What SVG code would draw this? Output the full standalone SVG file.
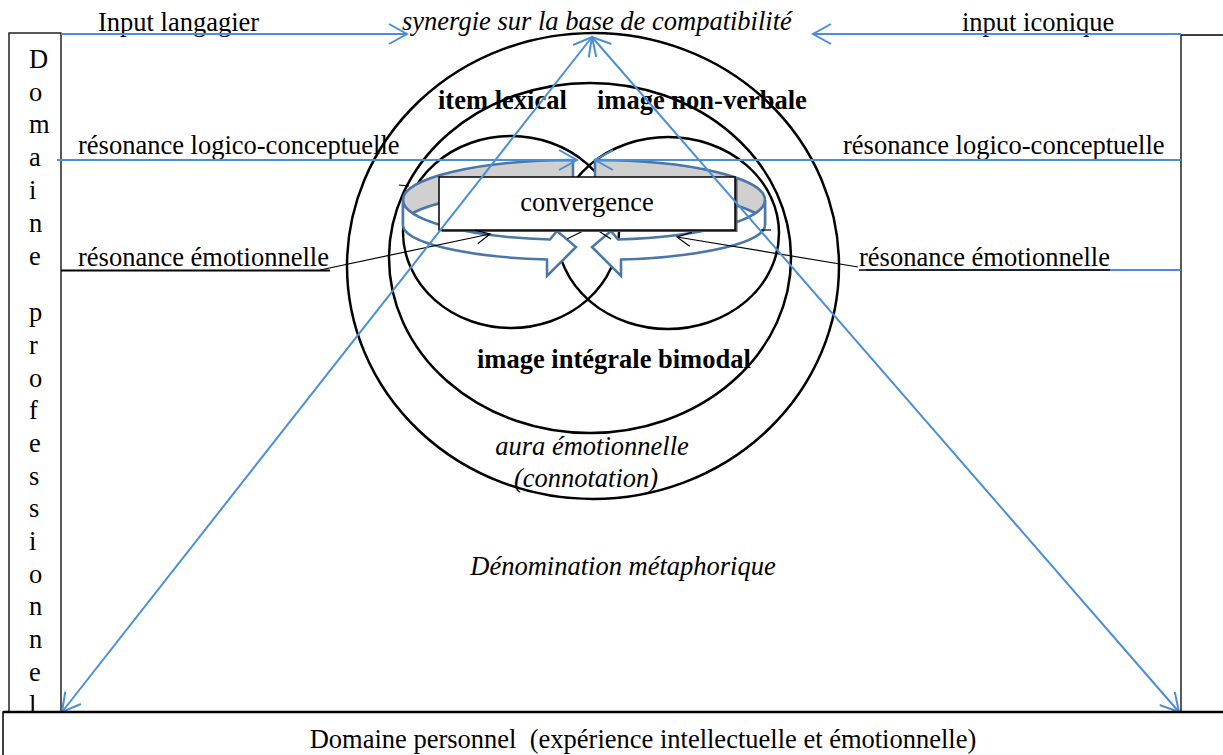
<svg xmlns="http://www.w3.org/2000/svg" width="1223" height="755" viewBox="0 0 1223 755">
<style>
text { font-family: "Liberation Serif", "Times New Roman", serif; font-size: 26.5px; fill: #000; }
.it { font-style: italic; }
.b { font-weight: bold; }
.circ { fill: none; stroke: #000; stroke-width: 2.5; }
.blue { fill: none; stroke: #4a8fd6; stroke-width: 2; }
.thin { fill: none; stroke: #000; stroke-width: 1.2; }
.frame { fill: #fff; stroke: #000; stroke-width: 1.3; }
.rib { stroke: #4a76a8; stroke-width: 2.5; stroke-linejoin: miter; }
</style>
<defs>
<marker id="ab" viewBox="-20 -12 22 24" refX="0" refY="0" markerWidth="22" markerHeight="24" markerUnits="userSpaceOnUse" orient="auto-start-reverse">
<path d="M-18,-10 L0,0 L-18,10" fill="none" stroke="#4a8fd6" stroke-width="2"/>
</marker>
<marker id="ak" viewBox="-16 -9 18 18" refX="0" refY="0" markerWidth="18" markerHeight="18" markerUnits="userSpaceOnUse" orient="auto">
<path d="M-14,-7 L0,0 L-14,7" fill="none" stroke="#000" stroke-width="1.2"/>
</marker>
</defs>

<g id="domaine-professionnel">
<rect x="9" y="33" width="52" height="690" class="frame"/>
<text x="29" y="68">D</text>
<text x="29" y="100.5">o</text>
<text x="29" y="133">m</text>
<text x="29" y="166">a</text>
<text x="29" y="199">i</text>
<text x="29" y="232">n</text>
<text x="29" y="265">e</text>
<text x="29" y="321">p</text>
<text x="29" y="353.5">r</text>
<text x="29" y="386.5">o</text>
<text x="29" y="419">f</text>
<text x="29" y="451.5">e</text>
<text x="29" y="484.5">s</text>
<text x="29" y="517">s</text>
<text x="29" y="550">i</text>
<text x="29" y="582.5">o</text>
<text x="29" y="615">n</text>
<text x="29" y="648">n</text>
<text x="29" y="680.5">e</text>
<text x="29" y="713.5">l</text>
</g>

<g id="right-column">
<path d="M1240,35 L1181,35 L1181,720" fill="none" stroke="#000" stroke-width="1.3"/>
</g>

<g id="circles">
<ellipse id="aura" cx="593" cy="266" rx="246" ry="233" class="circ"/>
<ellipse id="image-integrale" cx="590" cy="258" rx="201" ry="175" class="circ"/>
<ellipse id="item-lexical" cx="511" cy="232" rx="108" ry="96" class="circ"/>
<ellipse id="image-non-verbale" cx="668" cy="233" rx="111" ry="96" class="circ"/>
</g>

<g id="ribbon-left">
<path class="rib" fill="#d0d0d0" d="M573,160 A170,40 0 0 0 403,200 L403,225 A170,35 0 0 1 573,190 Z"/>
<path class="rib" fill="#fff" d="M403,200 A170,40 0 0 0 550,239.6 L557,231 L576,247 L547,276 L547,259.6 A170,35 0 0 1 403,225 Z"/>
</g>
<g id="ribbon-right" transform="translate(1168,0) scale(-1,1)">
<path class="rib" fill="#d0d0d0" d="M573,160 A170,40 0 0 0 403,200 L403,225 A170,35 0 0 1 573,190 Z"/>
<path class="rib" fill="#fff" d="M403,200 A170,40 0 0 0 550,239.6 L557,231 L576,247 L547,276 L547,259.6 A170,35 0 0 1 403,225 Z"/>
</g>

<g id="misc-lines">
<line x1="567" y1="239" x2="585" y2="230" class="thin"/>
<line x1="597" y1="230" x2="611" y2="239" class="thin"/>
<line x1="399" y1="185" x2="409" y2="186" class="thin"/>
<line x1="761" y1="230" x2="771" y2="230" class="thin"/>
</g>

<g id="convergence">
<rect x="441.5" y="179" width="296" height="53" fill="#555"/>
<rect x="439" y="177" width="296" height="53" fill="#fff" stroke="#000" stroke-width="1.5"/>
<text x="587" y="211" text-anchor="middle">convergence</text>
</g>

<g id="labels">
<text x="98" y="31">Input langagier</text>
<text x="402" y="30" class="it">synergie sur la base de compatibilité</text>
<text x="962" y="31">input iconique</text>
<text x="78" y="154">résonance logico-conceptuelle</text>
<text x="843" y="154">résonance logico-conceptuelle</text>
<text x="78" y="266">résonance émotionnelle</text>
<text x="859" y="266">résonance émotionnelle</text>
<text x="438" y="109" class="b">item lexical</text>
<text x="597" y="109" class="b">image non-verbale</text>
<text x="477" y="368" class="b">image intégrale bimodal</text>
<text x="592" y="455" class="it" text-anchor="middle">aura émotionnelle</text>
<text x="586" y="487" class="it" text-anchor="middle">(connotation)</text>
<text x="623" y="575" class="it" text-anchor="middle">Dénomination métaphorique</text>
</g>

<g id="connectors">
<line x1="61" y1="34" x2="407" y2="34" class="blue" marker-end="url(#ab)"/>
<line x1="1181" y1="34" x2="813" y2="34" class="blue" marker-end="url(#ab)"/>
<line x1="57" y1="160" x2="577" y2="160" class="blue" marker-end="url(#ab)"/>
<line x1="1181" y1="160" x2="595" y2="160" class="blue" marker-end="url(#ab)"/>
<line x1="866" y1="270" x2="1181" y2="270" class="blue"/>
<line x1="61" y1="270.5" x2="330" y2="270.5" stroke="#000" stroke-width="2"/>
<line x1="859" y1="270" x2="1110" y2="270" stroke="#000" stroke-width="1.5"/>
<line x1="320" y1="270" x2="490" y2="234" class="thin" marker-end="url(#ak)"/>
<line x1="858" y1="267" x2="677" y2="237" class="thin" marker-end="url(#ak)"/>
<line x1="592" y1="37" x2="62" y2="712" class="blue" marker-start="url(#ab)" marker-end="url(#ab)"/>
<line x1="592" y1="37" x2="1179" y2="712" class="blue" marker-start="url(#ab)" marker-end="url(#ab)"/>
</g>

<g id="domaine-personnel">
<rect x="3" y="712" width="1240" height="60" fill="#fff" stroke="#000" stroke-width="1.5"/>
<line x1="3" y1="712" x2="1223" y2="712" stroke="#000" stroke-width="2.5"/>
<text x="643" y="748" text-anchor="middle" xml:space="preserve" style="white-space: pre">Domaine personnel  (expérience intellectuelle et émotionnelle)</text>
</g>
</svg>
